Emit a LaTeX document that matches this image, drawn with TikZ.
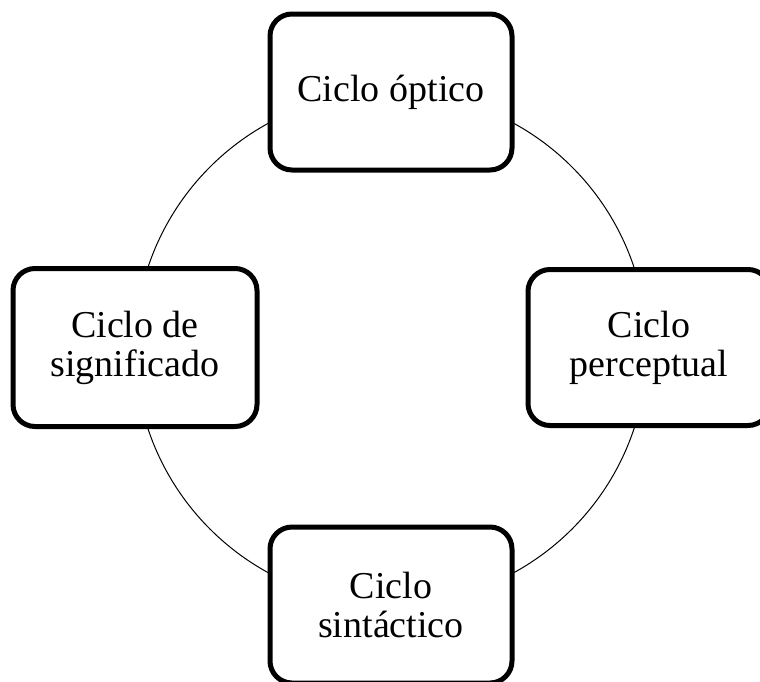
\documentclass[tikz,border=0pt]{standalone}
\usepackage{fontspec}
\setmainfont{Liberation Serif}

\tikzset{
    cyclebox/.style = {draw = black, line width = 2.5pt, rounded corners = 11pt,
        fill = white, minimum width = 121pt, minimum height = 78pt,
        align = center, font = {\fontsize{19}{19.5}\selectfont}}
}

\begin{document}
\begin{tikzpicture}[x = 0.5pt, y = -0.5pt]
            \useasboundingbox (0, 0) rectangle (760, 681);
            \coordinate (centro) at (391, 348);
            \draw[line width = 0.5pt] (centro) circle [radius = 256];

            \node[cyclebox] (optico) at (391, 92) {Ciclo óptico};
            \node[cyclebox] (perceptual) at (649, 347.5) {Ciclo\\perceptual};
            \node[cyclebox] (sintactico) at (391, 605) {Ciclo\\sintáctico};
            \node[cyclebox, minimum width = 122pt, minimum height = 79pt] (significado) at (135, 347.5) {Ciclo de\\significado};
        \end{tikzpicture}
\end{document}
